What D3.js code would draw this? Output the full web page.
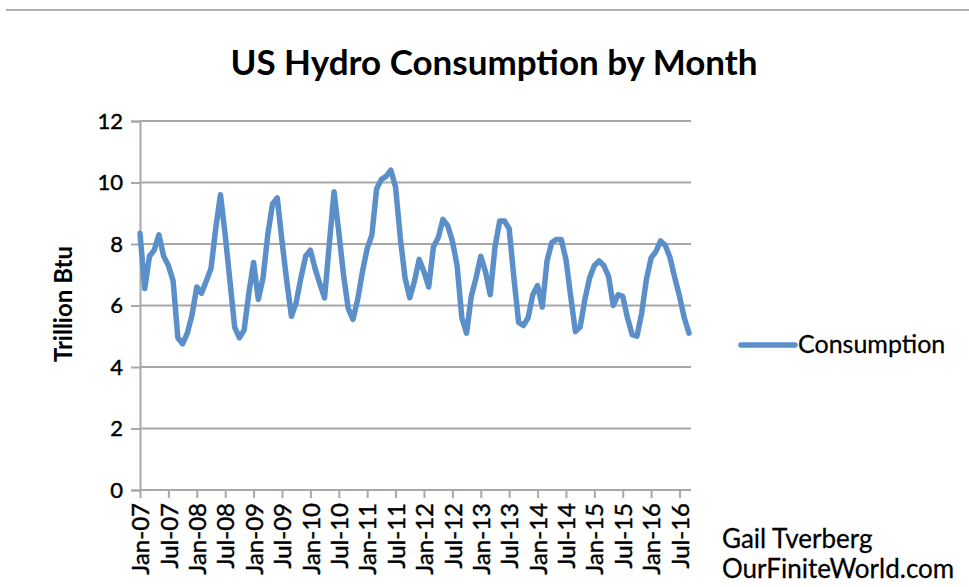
<!DOCTYPE html>
<html>
<head>
<meta charset="utf-8">
<script src="https://cdn.jsdelivr.net/npm/d3@7"></script>
<style>
  html, body { margin: 0; padding: 0; background: #fff; }
  svg { display: block; font-family: Lato, "Open Sans", sans-serif; }
</style>
</head>
<body>
<svg id="chart" width="969" height="587"></svg>
<script>
// ---- Data ----
const startYear = 2007;
const monthNames = ["Jan","Feb","Mar","Apr","May","Jun","Jul","Aug","Sep","Oct","Nov","Dec"];
const consumption = [
  8.35, 6.55, 7.6, 7.8, 8.3, 7.6, 7.3, 6.8, 4.95, 4.75, 5.1, 5.7,
  6.6, 6.4, 6.8, 7.2, 8.5, 9.6, 8.3, 6.8, 5.3, 4.95, 5.2, 6.4,
  7.4, 6.2, 6.9, 8.3, 9.3, 9.5, 8.1, 6.8, 5.65, 6.1, 6.9, 7.6,
  7.8, 7.2, 6.7, 6.25, 8.0, 9.7, 8.4, 7.0, 5.9, 5.55, 6.2, 7.1,
  7.85, 8.3, 9.8, 10.1, 10.2, 10.4, 9.85, 8.2, 6.9, 6.25, 6.8, 7.5,
  7.1, 6.6, 7.9, 8.2, 8.8, 8.6, 8.1, 7.3, 5.6, 5.1, 6.3, 6.9,
  7.6, 7.1, 6.35, 7.9, 8.75, 8.75, 8.5, 6.9, 5.45, 5.35, 5.6, 6.35,
  6.65, 5.95, 7.45, 8.05, 8.15, 8.15, 7.5, 6.3, 5.15, 5.3, 6.2, 6.9,
  7.3, 7.45, 7.3, 6.95, 6.0, 6.35, 6.3, 5.6, 5.05, 5.0, 5.75, 6.85,
  7.55, 7.75, 8.1, 7.95, 7.55, 6.9, 6.3, 5.6, 5.1
];
const categories = consumption.map((_, i) =>
  monthNames[i % 12] + "-" + String((startYear + Math.floor(i / 12)) % 100).padStart(2, "0"));
const xTickLabels = ["Jan-07","Jul-07","Jan-08","Jul-08","Jan-09","Jul-09","Jan-10","Jul-10",
  "Jan-11","Jul-11","Jan-12","Jul-12","Jan-13","Jul-13","Jan-14","Jul-14","Jan-15","Jul-15","Jan-16","Jul-16"];
const yTicks = [0, 2, 4, 6, 8, 10, 12];
const seriesName = "Consumption";
const chartTitle = "US Hydro Consumption by Month";
const yTitle = "Trillion Btu";
const credits = ["Gail Tverberg", "OurFiniteWorld.com"];

// ---- Layout ----
const svg = d3.select("#chart");
const plotL = 140, plotR = 689, plotT = 121, plotB = 490;
const lineColor = "#5b8fc9";
const gridColor = "#a8a8a8";
const heft = 0.45;

const x = d3.scalePoint().domain(categories).range([plotL, plotR]);
const y = d3.scaleLinear().domain([0, 12]).range([plotB, plotT]);

// top border line
svg.append("line").attr("x1", 6).attr("x2", 969).attr("y1", 10).attr("y2", 10)
  .attr("stroke", "#b0b0b0").attr("stroke-width", 2);

// title
svg.append("text").attr("x", 494).attr("y", 75).attr("text-anchor", "middle")
  .attr("font-size", 35).attr("font-weight", "bold").attr("fill", "#000").text(chartTitle);

// gridlines
svg.append("g").selectAll("line").data(yTicks).join("line")
  .attr("x1", plotL).attr("x2", plotR + 2)
  .attr("y1", d => y(d)).attr("y2", d => y(d))
  .attr("stroke", gridColor).attr("stroke-width", 2);

// y axis
const yAxis = svg.append("g").attr("transform", `translate(${plotL},0)`)
  .call(d3.axisLeft(y).tickValues(yTicks).tickSize(9).tickPadding(8).tickFormat(d3.format("d")));
yAxis.select(".domain").attr("stroke", gridColor).attr("stroke-width", 2);
yAxis.selectAll(".tick line").attr("stroke", gridColor).attr("stroke-width", 2);
yAxis.selectAll("text").attr("font-size", 22).attr("fill", "#000")
  .attr("stroke", "#000").attr("stroke-width", heft).attr("font-family", "Lato, sans-serif");

// x axis
const xAxis = svg.append("g").attr("transform", `translate(0,${plotB})`)
  .call(d3.axisBottom(x).tickValues(xTickLabels).tickSize(8).tickSizeOuter(0));
xAxis.select(".domain").attr("stroke", gridColor).attr("stroke-width", 2)
  .attr("d", `M${plotL},0H${plotR + 2}`);
xAxis.selectAll(".tick line").attr("stroke", gridColor).attr("stroke-width", 2);
xAxis.selectAll("text")
  .attr("font-size", 24).attr("fill", "#000").attr("font-family", "Lato, sans-serif")
  .attr("stroke", "#000").attr("stroke-width", heft)
  .attr("text-anchor", "end")
  .attr("transform", "rotate(-90)")
  .attr("x", -13).attr("y", 0).attr("dy", "0.36em");

// y title
svg.append("text")
  .attr("transform", `translate(72,304) rotate(-90)`)
  .attr("text-anchor", "middle").attr("font-size", 24).attr("font-weight", "bold")
  .attr("fill", "#000").text(yTitle);

// line
const line = d3.line().x((d, i) => x(categories[i])).y(d => y(d)).curve(d3.curveLinear);
svg.append("path").datum(consumption)
  .attr("d", line).attr("fill", "none").attr("stroke", lineColor)
  .attr("stroke-width", 5.5).attr("stroke-linejoin", "round").attr("stroke-linecap", "round");

// legend
svg.append("line").attr("x1", 741).attr("x2", 795).attr("y1", 345).attr("y2", 345)
  .attr("stroke", lineColor).attr("stroke-width", 5.5).attr("stroke-linecap", "round");
svg.append("text").attr("x", 798).attr("y", 353).attr("font-size", 25).attr("fill", "#000")
  .attr("stroke", "#000").attr("stroke-width", heft * 0.6).text(seriesName);

// credits
svg.append("g").selectAll("text").data(credits).join("text")
  .attr("x", 722).attr("y", (d, i) => 548 + i * 30)
  .attr("font-size", 26).attr("fill", "#000")
  .attr("stroke", "#000").attr("stroke-width", heft * 0.6).text(d => d);
</script>
</body>
</html>
